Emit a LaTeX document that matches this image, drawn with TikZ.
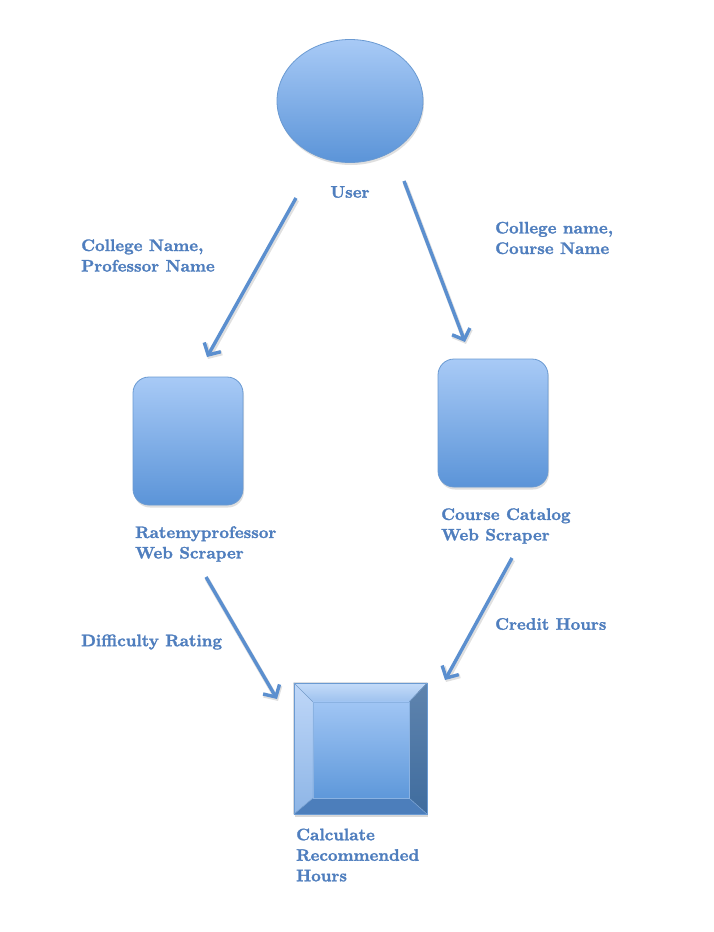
\documentclass[tikz,border=0pt]{standalone}
\usepackage{fontspec}
\newfontfamily\lblfont{lmroman10-bold.otf}[FakeBold=1.6]
\usetikzlibrary{arrows.meta,shadows,calc,shapes.geometric}
\definecolor{txtblue}{HTML}{4F7EBE}
\definecolor{arrblue}{HTML}{5B8FCF}
\definecolor{shtop}{HTML}{A8CAF6}
\definecolor{shbot}{HTML}{5B94D8}
\definecolor{shedge}{HTML}{6A9AD2}
\definecolor{bvtopa}{HTML}{C5DCF9}
\definecolor{bvtopb}{HTML}{9DC1EE}
\definecolor{bvlefta}{HTML}{BFD7F8}
\definecolor{bvleftb}{HTML}{8DB5E6}
\definecolor{bvrighta}{HTML}{5F84AE}
\definecolor{bvrightb}{HTML}{3F6C9E}
\definecolor{bvbot}{HTML}{4C7EBB}
\definecolor{bvina}{HTML}{A0C5F4}
\definecolor{bvinb}{HTML}{5E98DA}
\definecolor{bvedge}{HTML}{6A9AD2}
\definecolor{bvdiag}{HTML}{7FA8D8}
\definecolor{bvinedge}{HTML}{8AB2E2}
\begin{document}
\begin{tikzpicture}[x=1pt,y=-1pt,
  lbl/.style={text=txtblue,font=\lblfont\fontsize{16.7}{20.5}\selectfont,align=left,inner sep=0pt,anchor=west},
  flow/.style={draw=arrblue,line width=3.4pt,-{Straight Barb[length=9pt,width=19pt,line width=3.4pt]}},
  flowshadow/.style={draw=black,opacity=0.12,line width=4.5pt,-{Straight Barb[length=9pt,width=19pt,line width=4.5pt]}},
  shapefill/.style={top color=shtop,bottom color=shbot,draw=shedge,line width=0.8pt,
    drop shadow={opacity=0.25,shadow xshift=1pt,shadow yshift=-2.5pt}},
  procbox/.style={shapefill,rectangle,rounded corners=16pt,minimum width=110pt,minimum height=128pt,inner sep=0pt}
]
\useasboundingbox (0,0) rectangle (714,932);
\fill[white] (0,0) rectangle (714,932);

% User ellipse
\node[shapefill,ellipse,minimum width=146pt,minimum height=123pt,inner sep=0pt] (user) at (350,101) {};
\node[lbl,anchor=center] (userlbl) at (350,192) {User};

% Scraper boxes
\node[procbox] (rmp) at (188,441) {};
\node[procbox] (cc) at (493,423) {};

% Calculate box (bevel)
\node[rectangle,minimum width=133pt,minimum height=131pt,inner sep=0pt,fill=white,
  drop shadow={opacity=0.3,shadow xshift=1pt,shadow yshift=-3pt}] (calc) at (360.5,748.5) {};
\coordinate (ia) at ($(calc.north west)+(19,19)$);
\coordinate (ib) at ($(calc.north east)+(-18,19)$);
\coordinate (ic) at ($(calc.south east)+(-18,-16)$);
\coordinate (id) at ($(calc.south west)+(19,-16)$);
\fill[top color=bvtopa,bottom color=bvtopb] (calc.north west) -- (calc.north east) -- (ib) -- (ia) -- cycle;
\fill[top color=bvlefta,bottom color=bvleftb] (calc.north west) -- (ia) -- (id) -- (calc.south west) -- cycle;
\fill[top color=bvrighta,bottom color=bvrightb] (calc.north east) -- (calc.south east) -- (ic) -- (ib) -- cycle;
\fill[bvbot] (calc.south west) -- (id) -- (ic) -- (calc.south east) -- cycle;
\fill[top color=bvina,bottom color=bvinb] (ia) rectangle (ic);
\draw[bvedge,line width=0.6pt] (calc.north west) rectangle (calc.south east);
\draw[bvdiag,line width=0.5pt] (calc.north west) -- (ia) (calc.north east) -- (ib) (calc.south east) -- (ic) (calc.south west) -- (id);
\draw[bvinedge,line width=0.5pt] (ia) rectangle (ic);

% Labels
\node[lbl] (l1) at (81,255.5) {College Name,\\Professor Name};
\node[lbl] (l2) at (495,238) {College name,\\Course Name};
\node[lbl] (l3) at (135,544) {Ratemyprofessor\\Web Scraper};
\node[lbl] (l4) at (441,526) {Course Catalog\\Web Scraper};
\node[lbl] (l5) at (81,642) {Difficulty Rating};
\node[lbl] (l6) at (495,624) {Credit Hours};
\node[lbl] (l7) at (296,855) {Calculate\\Recommended\\Hours};

% Arrow end points
\coordinate (a1s) at (296,198);
\coordinate (a1e) at (207,357);
\coordinate (a2s) at (404,181);
\coordinate (a2e) at (465,342);
\coordinate (a3s) at (206,577);
\coordinate (a3e) at (277,699);
\coordinate (a4s) at (512,558);
\coordinate (a4e) at (445,680);

\foreach \s/\e in {a1s/a1e,a2s/a2e,a3s/a3e,a4s/a4e}{
  \draw[flowshadow,transform canvas={shift={(1pt,-2pt)}}] (\s) -- (\e);
}
\draw[flow] (a1s) -- (a1e);
\draw[flow] (a2s) -- (a2e);
\draw[flow] (a3s) -- (a3e);
\draw[flow] (a4s) -- (a4e);
\end{tikzpicture}
\end{document}
